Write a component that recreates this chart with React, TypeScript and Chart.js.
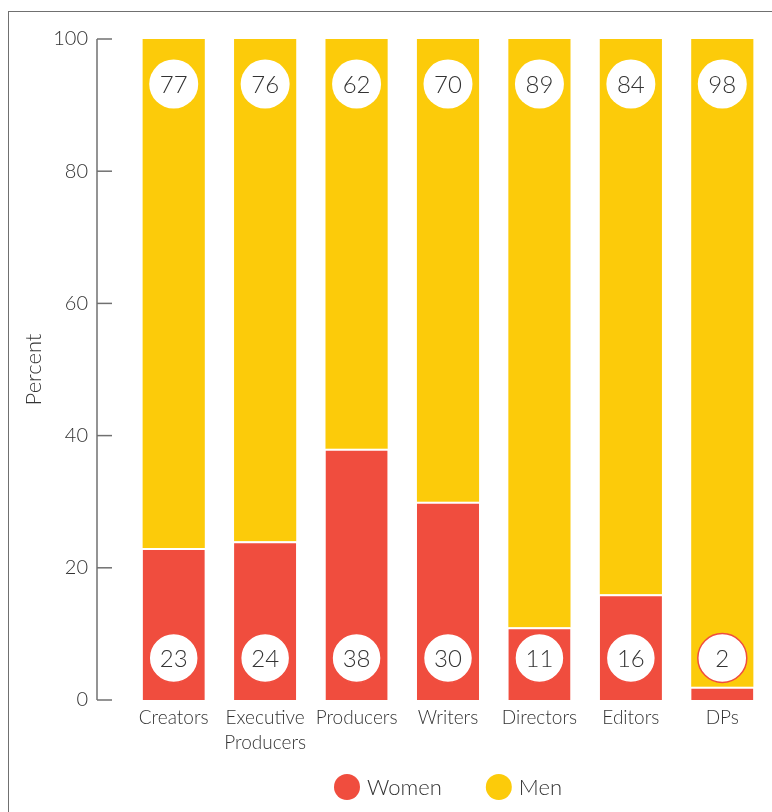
import React, { useEffect, useRef } from "react";
import { Chart, registerables } from "chart.js";

Chart.register(...registerables);

const categories: (string | string[])[] = [
  "Creators",
  ["Executive", "Producers"],
  "Producers",
  "Writers",
  "Directors",
  "Editors",
  "DPs",
];
const women = [23, 24, 38, 30, 11, 16, 2];
const men = [77, 76, 62, 70, 89, 84, 98];
const yTicks = [0, 20, 40, 60, 80, 100];

const RED = "#F04D3E";
const YELLOW = "#FCCB0A";
const TEXT = "#333333";
const FONT = "Lato, 'Noto Sans', sans-serif";
const WEIGHT = "300";

const axisPlugin = {
  id: "customAxis",
  afterDraw(chart: any) {
    const y = chart.scales.y;
    const ctx = chart.ctx;
    const x0 = chart.chartArea.left - 31;
    ctx.save();
    ctx.strokeStyle = "#707070";
    ctx.lineWidth = 1.5;
    ctx.beginPath();
    ctx.moveTo(x0, y.getPixelForValue(100));
    ctx.lineTo(x0, y.getPixelForValue(0));
    ctx.stroke();
    for (const t of yTicks) {
      const py = y.getPixelForValue(t);
      ctx.beginPath();
      ctx.moveTo(x0, py);
      ctx.lineTo(x0 + 15, py);
      ctx.stroke();
    }
    ctx.restore();
  },
};

const legendPlugin = {
  id: "circleLegend",
  afterDraw(chart: any) {
    const ctx = chart.ctx;
    const ds = chart.data.datasets;
    const r = 13;
    const gapText = 7;
    const gapItem = 44;
    ctx.save();
    ctx.font = `${WEIGHT} 22px ${FONT}`;
    ctx.textBaseline = "middle";
    ctx.textAlign = "left";
    const widths = ds.map((d: any) => 2 * r + gapText + ctx.measureText(d.label).width);
    const total = widths.reduce((a: number, b: number) => a + b, 0) + gapItem * (ds.length - 1);
    const { left, right } = chart.chartArea;
    let x = (left + right) / 2 - total / 2;
    const cy = chart.height - 25;
    ds.forEach((d: any, i: number) => {
      ctx.beginPath();
      ctx.arc(x + r, cy, r, 0, Math.PI * 2);
      ctx.fillStyle = d.backgroundColor;
      ctx.fill();
      ctx.fillStyle = TEXT;
      ctx.fillText(d.label, x + 2 * r + gapText, cy + 1);
      x += widths[i] + gapItem;
    });
    ctx.restore();
  },
};

const labelPlugin = {
  id: "circleLabels",
  afterDatasetsDraw(chart: any) {
    const ctx = chart.ctx;
    const mW = chart.getDatasetMeta(0);
    const mM = chart.getDatasetMeta(1);
    ctx.save();
    ctx.font = `${WEIGHT} 24px ${FONT}`;
    ctx.textAlign = "center";
    ctx.textBaseline = "middle";
    const r = 24.5;
    women.forEach((v, i) => {
      const b = mW.data[i];
      const cx = b.x;
      const cy = b.base - 42;
      ctx.beginPath();
      ctx.arc(cx, cy, r, 0, Math.PI * 2);
      ctx.fillStyle = "#ffffff";
      ctx.fill();
      ctx.strokeStyle = RED;
      ctx.lineWidth = 1.5;
      ctx.stroke();
      ctx.fillStyle = TEXT;
      ctx.fillText(String(v), cx, cy + 1);
    });
    men.forEach((v, i) => {
      const b = mM.data[i];
      const cx = b.x;
      const cy = b.y + 45;
      ctx.beginPath();
      ctx.arc(cx, cy, r, 0, Math.PI * 2);
      ctx.fillStyle = "#ffffff";
      ctx.fill();
      ctx.fillStyle = TEXT;
      ctx.fillText(String(v), cx, cy + 1);
    });
    ctx.restore();
  },
};

export default function App() {
  const ref = useRef<HTMLCanvasElement | null>(null);
  useEffect(() => {
    if (!ref.current) return;
    const chart = new Chart(ref.current, {
      type: "bar",
      data: {
        labels: categories,
        datasets: [
          {
            label: "Women",
            data: women,
            backgroundColor: RED,
            borderColor: "#ffffff",
            borderWidth: { top: 2, left: 0, right: 0, bottom: 0 },
            borderSkipped: false,
            barPercentage: 0.68,
            categoryPercentage: 1,
          },
          {
            label: "Men",
            data: men,
            backgroundColor: YELLOW,
            borderWidth: 0,
            barPercentage: 0.68,
            categoryPercentage: 1,
          },
        ],
      },
      options: {
        animation: false,
        responsive: true,
        maintainAspectRatio: false,
        layout: { padding: { left: 8, right: 4, top: 27, bottom: 56 } },
        plugins: {
          tooltip: { enabled: false },
          legend: { display: false },
        },
        scales: {
          x: {
            stacked: true,
            grid: { display: false, drawTicks: false },
            border: { display: false },
            ticks: {
              color: TEXT,
              padding: 6,
              maxRotation: 0,
              autoSkip: false,
              font: { family: FONT, size: 19, lineHeight: 1.3, weight: WEIGHT },
            },
            afterFit(scale: any) {
              scale.height = 56;
              scale.paddingLeft = 0;
              scale.paddingRight = 0;
            },
          },
          y: {
            stacked: true,
            min: 0,
            max: 100,
            grid: { display: false, drawTicks: false },
            border: { display: false },
            ticks: {
              stepSize: 20,
              color: TEXT,
              padding: 40,
              font: { family: FONT, size: 20, weight: WEIGHT },
            },
            title: {
              display: true,
              text: "Percent",
              color: TEXT,
              font: { family: FONT, size: 22, weight: WEIGHT },
            },
            afterFit(scale: any) {
              scale.width = 111;
              scale.paddingTop = 0;
              scale.paddingBottom = 0;
            },
          },
        },
      },
      plugins: [axisPlugin, labelPlugin, legendPlugin],
    } as any);
    return () => chart.destroy();
  }, []);

  return (
    <div
      style={{
        position: "fixed",
        left: 8,
        top: 11,
        right: 0,
        bottom: 0,
        borderTop: "1px solid #707070",
        borderLeft: "1px solid #707070",
        background: "#fff",
      }}
    >
      <div style={{ position: "relative", width: 763, height: 800 }}>
        <canvas ref={ref} />
      </div>
    </div>
  );
}
